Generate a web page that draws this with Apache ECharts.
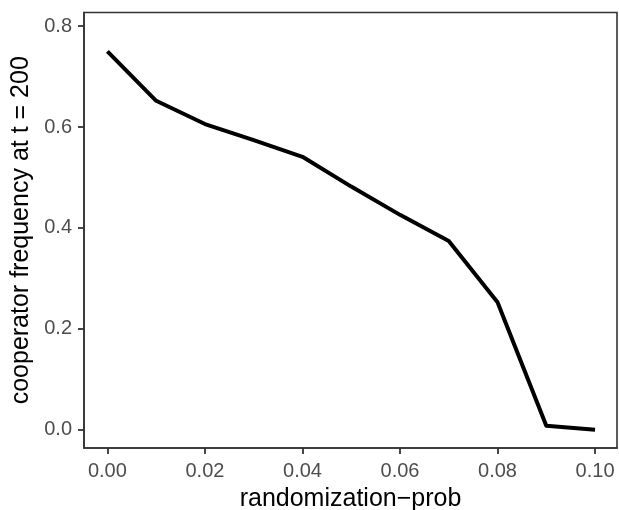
<!DOCTYPE html>
<html><head><meta charset="utf-8">
<script src="https://cdn.jsdelivr.net/npm/echarts@6/dist/echarts.min.js"></script>
<style>html,body{margin:0;padding:0;background:#fff}#c{width:619px;height:510px}</style>
</head><body><div id="c"></div>
<script>
const xValues = [0.00, 0.01, 0.02, 0.03, 0.04, 0.05, 0.06, 0.07, 0.08, 0.09, 0.10];
const yValues = [0.750, 0.652, 0.606, 0.574, 0.541, 0.482, 0.426, 0.374, 0.253, 0.008, 0.000];
const xTicks = [0.00, 0.02, 0.04, 0.06, 0.08, 0.10];
const yTicks = [0.0, 0.2, 0.4, 0.6, 0.8];
const xTitle = 'randomization\u2212prob';
const yTitle = 'cooperator frequency at t = 200';

const chart = echarts.init(document.getElementById('c'), null, {renderer:'canvas'});
const font = 'Liberation Sans, Arial, sans-serif';
chart.setOption({
  animation:false,
  grid:{left:84, top:12.5, width:533, height:435.5, outerBoundsMode:'none', containLabel:false,
    show:true, borderColor:'#333', borderWidth:1.6, backgroundColor:'#fff'},
  xAxis:{type:'value', min:-0.0048, max:0.1045,
    name:xTitle, nameLocation:'middle', nameGap:39,
    nameTextStyle:{fontFamily:font, fontSize:25, color:'#000'},
    axisLine:{show:true, onZero:false, lineStyle:{color:'#333', width:1.6}},
    axisTick:{show:true, inside:false, length:6, lineStyle:{color:'#333', width:1.8}, customValues:xTicks},
    axisLabel:{fontFamily:font, fontSize:20, color:'#4d4d4d', margin:13, customValues:xTicks,
      formatter:v=>v.toFixed(2)},
    splitLine:{show:false}},
  yAxis:{type:'value', min:-0.036, max:0.827,
    name:yTitle, nameLocation:'middle', nameGap:49,
    nameTextStyle:{fontFamily:font, fontSize:25, color:'#000'},
    axisLine:{show:true, onZero:false, lineStyle:{color:'#333', width:1.6}},
    axisTick:{show:true, inside:false, length:6, lineStyle:{color:'#333', width:1.8}, customValues:yTicks},
    axisLabel:{fontFamily:font, fontSize:20, color:'#4d4d4d', margin:12, customValues:yTicks,
      formatter:v=>v.toFixed(1)},
    splitLine:{show:false}},
  series:[{type:'line', data:xValues.map((x,i)=>[x,yValues[i]]), showSymbol:false,
    lineStyle:{color:'#000', width:4, join:'round'}}]
});
</script></body></html>
